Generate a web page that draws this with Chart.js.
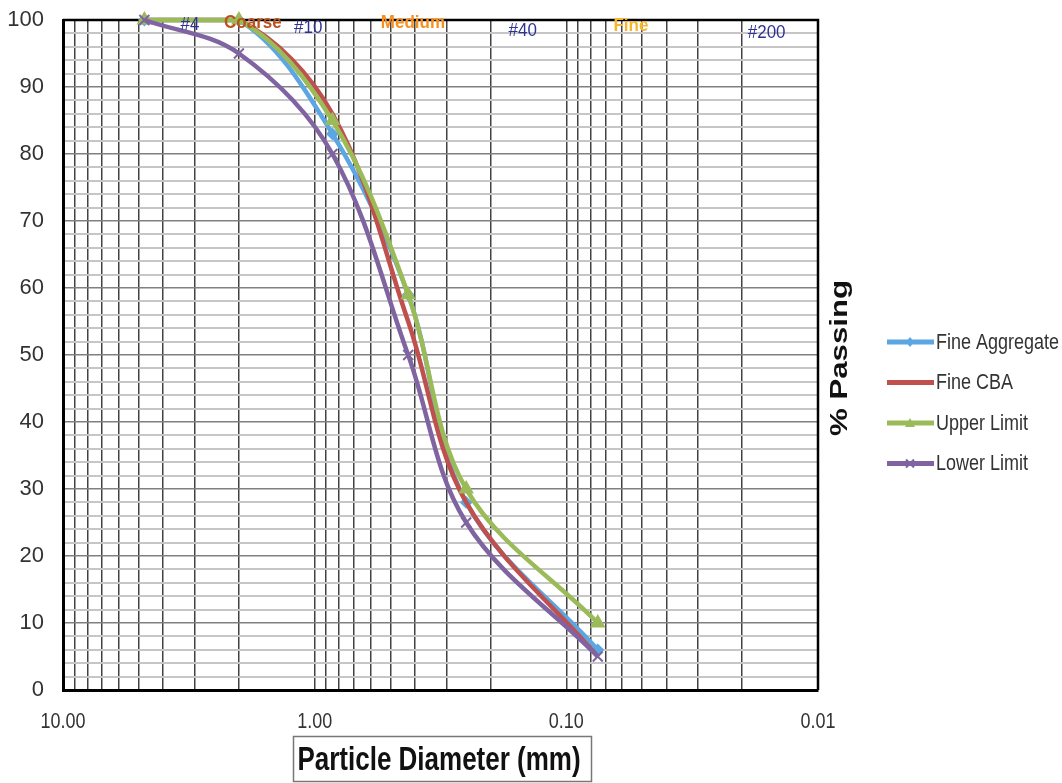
<!DOCTYPE html>
<html lang="en">
<head>
    <meta charset="UTF-8">
    <title>Particle Size Distribution</title>
    <script src="https://cdn.jsdelivr.net/npm/chart.js"></script>
    <style>
        body { margin: 0; background: #fff; }
        #grafico { width: 1062px; height: 783px; }
    </style>
</head>
<body>
<div id="grafico">
    <canvas id="myChart" width="1062" height="783"></canvas>
</div>
<script>
    // sieve openings (mm) and % passing for each curve
    const diametros = [4.75, 2.0, 0.85, 0.425, 0.25, 0.075];
    const fineAggregate = [100, 100, 83, 59, 28, 6];
    const fineCBA = [100, 100, 86, 55, 28, 5];
    const upperLimit = [100, 100, 85, 59, 30, 10];
    const lowerLimit = [100, 95, 80, 50, 25, 5];
    const nomesSeries = ['Fine Aggregate', 'Fine CBA', 'Upper Limit', 'Lower Limit'];

    const xTickValores = [10, 1, 0.1, 0.01];
    const xTickTextos = ['10.00', '1.00', '0.10', '0.01'];
    const yTickValores = [0, 10, 20, 30, 40, 50, 60, 70, 80, 90, 100];

    // sieve / soil class labels along the top edge
    const faixaTextos = ['#4', 'Coarse', '#10', 'Medium', '#40', 'Fine', '#200'];
    const faixaDiametros = [3.13, 1.76, 1.06, 0.407, 0.149, 0.0554, 0.016];

    const faixaEstilo = [
        { cor: '#2E3192', negrito: false, base: 30 },
        { cor: '#B9531F', negrito: true, base: 28 },
        { cor: '#2E3192', negrito: false, base: 33 },
        { cor: '#F7901E', negrito: true, base: 28 },
        { cor: '#2E3192', negrito: false, base: 36 },
        { cor: '#F9B52E', negrito: true, base: 31 },
        { cor: '#2E3192', negrito: false, base: 38 }
    ];

    const FONTE = '"Liberation Sans", Arial, sans-serif';

    function serie(nome, valores, cor, estilo, raio, ordem) {
        return {
            label: nome,
            data: diametros.map((d, i) => ({ x: d, y: valores[i] })),
            borderColor: cor,
            backgroundColor: cor,
            borderWidth: 4.5,
            pointStyle: estilo,
            pointRadius: raio,
            pointBorderWidth: 2,
            pointBackgroundColor: cor,
            pointBorderColor: cor,
            tension: 0.35,
            clip: false,
            order: ordem
        };
    }

    // text with a bit of vertical stretch
    function texto(ctx, str, x, y, fonte, cor, alinhamento, escala) {
        ctx.save();
        ctx.translate(x, y);
        ctx.scale(1, escala);
        ctx.font = fonte;
        ctx.fillStyle = cor;
        ctx.textAlign = alinhamento;
        ctx.textBaseline = 'alphabetic';
        ctx.fillText(str, 0, 0);
        ctx.restore();
    }

    function marcador(ctx, estilo, cor, x, y) {
        ctx.save();
        ctx.fillStyle = cor;
        ctx.strokeStyle = cor;
        ctx.lineWidth = 2;
        ctx.beginPath();
        if (estilo === 'rectRot') {
            ctx.moveTo(x, y - 5); ctx.lineTo(x + 4, y); ctx.lineTo(x, y + 5); ctx.lineTo(x - 4, y);
            ctx.closePath(); ctx.fill();
        } else if (estilo === 'triangle') {
            ctx.moveTo(x, y - 5); ctx.lineTo(x + 5, y + 4); ctx.lineTo(x - 5, y + 4);
            ctx.closePath(); ctx.fill();
        } else if (estilo === 'crossRot') {
            ctx.moveTo(x - 4, y - 4); ctx.lineTo(x + 4, y + 4);
            ctx.moveTo(x + 4, y - 4); ctx.lineTo(x - 4, y + 4);
            ctx.stroke();
        }
        ctx.restore();
    }

    const bordaSuperior = {
        id: 'bordaSuperior',
        beforeDatasetsDraw(chart) {
            const { ctx, chartArea } = chart;
            ctx.save();
            ctx.strokeStyle = '#000';
            ctx.lineWidth = 2.5;
            ctx.beginPath();
            ctx.moveTo(chartArea.left, chartArea.top);
            ctx.lineTo(chartArea.right, chartArea.top);
            ctx.lineTo(chartArea.right, chartArea.bottom);
            ctx.stroke();
            ctx.restore();
        }
    };

    const textos = {
        id: 'textos',
        afterDraw(chart) {
            const { ctx } = chart;
            const x = chart.scales.x;
            const y = chart.scales.y;

            // y tick labels
            ctx.save();
            ctx.font = '22px ' + FONTE;
            ctx.fillStyle = '#333';
            ctx.textAlign = 'right';
            ctx.textBaseline = 'middle';
            yTickValores.forEach(v => ctx.fillText(String(v), 44, y.getPixelForValue(v)));
            ctx.restore();

            // x tick labels
            xTickValores.forEach((v, i) => {
                texto(ctx, xTickTextos[i], x.getPixelForValue(v), 728, '18px ' + FONTE, '#333', 'center', 1.2);
            });

            // x axis title in a box
            ctx.save();
            ctx.strokeStyle = '#777';
            ctx.lineWidth = 1.5;
            ctx.strokeRect(293.5, 736.5, 298, 45);
            ctx.restore();
            texto(ctx, 'Particle Diameter (mm)', 439, 770, 'bold 26px ' + FONTE, '#111', 'center', 1.3);

            // y axis title on the right
            ctx.save();
            ctx.translate(840, 358);
            ctx.rotate(-Math.PI / 2);
            ctx.scale(1.3, 1);
            ctx.font = 'bold 24px ' + FONTE;
            ctx.fillStyle = '#111';
            ctx.textAlign = 'center';
            ctx.textBaseline = 'middle';
            ctx.fillText('% Passing', 0, 0);
            ctx.restore();

            // legend
            chart.data.datasets.forEach((ds, i) => {
                const ly = 342 + i * 40.5;
                ctx.save();
                ctx.strokeStyle = ds.borderColor;
                ctx.lineWidth = 5;
                ctx.beginPath();
                ctx.moveTo(887, ly);
                ctx.lineTo(934, ly);
                ctx.stroke();
                ctx.restore();
                if (ds.pointRadius > 0) marcador(ctx, ds.pointStyle, ds.borderColor, 910, ly);
                texto(ctx, ds.label, 936, ly + 6.5, '18px ' + FONTE, '#333', 'left', 1.2);
            });

            // sieve and class labels
            faixaTextos.forEach((t, i) => {
                const e = faixaEstilo[i];
                const fonte = (e.negrito ? 'bold ' : '') + '17px ' + FONTE;
                texto(ctx, t, x.getPixelForValue(faixaDiametros[i]), e.base, fonte, e.cor, 'center', 1.1);
            });
        }
    };

    const ctx = document.getElementById('myChart').getContext('2d');

    let myChart = new Chart(ctx, {
        type: 'line',
        data: {
            datasets: [
                serie(nomesSeries[0], fineAggregate, '#5BA6E3', 'rectRot', 5, 4),
                serie(nomesSeries[1], fineCBA, '#C0504D', 'circle', 0, 3),
                serie(nomesSeries[2], upperLimit, '#9BBB59', 'triangle', 7, 2),
                serie(nomesSeries[3], lowerLimit, '#8064A2', 'crossRot', 7, 1)
            ]
        },
        options: {
            responsive: false,
            animation: false,
            layout: {
                padding: { top: 20, right: 244, left: 0, bottom: 0 }
            },
            plugins: {
                legend: { display: false },
                tooltip: { enabled: false }
            },
            scales: {
                x: {
                    type: 'logarithmic',
                    min: 0.01,
                    max: 10,
                    reverse: true,
                    afterBuildTicks: (scale) => {
                        const ticks = [];
                        for (let e = -2; e <= 0; e++) {
                            for (let m = 1; m <= 9; m++) {
                                ticks.push({ value: +(m * Math.pow(10, e)).toPrecision(3) });
                            }
                        }
                        ticks.push({ value: 10 });
                        scale.ticks = ticks;
                    },
                    afterFit: (scale) => { scale.height = 93; },
                    ticks: { display: false, autoSkip: false },
                    grid: { color: 'rgba(45, 45, 45, 0.9)', lineWidth: 1.5, drawTicks: false },
                    border: { color: '#000', width: 3 }
                },
                y: {
                    min: 0,
                    max: 100,
                    afterBuildTicks: (scale) => {
                        const ticks = [];
                        for (let v = 0; v <= 100; v += 2) ticks.push({ value: v });
                        scale.ticks = ticks;
                    },
                    afterFit: (scale) => { scale.width = 63; },
                    ticks: { display: false, autoSkip: false },
                    grid: {
                        color: (c) => c.tick.value % 10 === 0 ? '#808080' : '#c6c6c6',
                        lineWidth: (c) => c.tick.value % 10 === 0 ? 1.5 : 2,
                        drawTicks: false
                    },
                    border: { color: '#000', width: 3 }
                }
            }
        },
        plugins: [bordaSuperior, textos]
    });
</script>
</body>
</html>
